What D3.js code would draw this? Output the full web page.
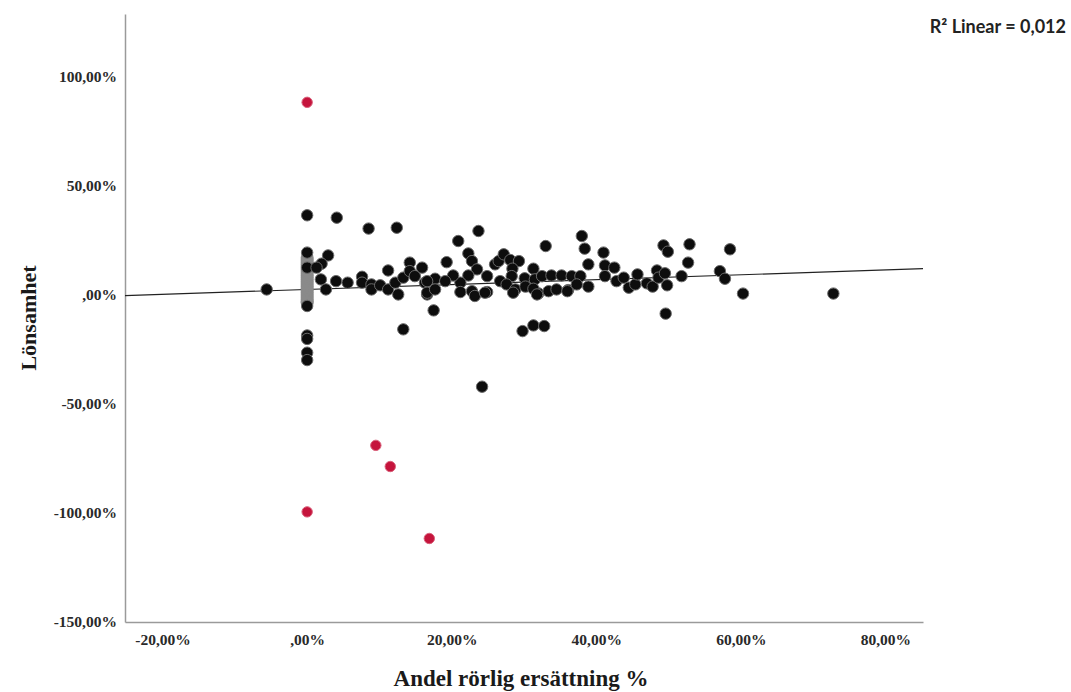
<!DOCTYPE html>
<html>
<head>
<meta charset="utf-8">
<script src="https://cdn.jsdelivr.net/npm/d3@7"></script>
<style>
  body { margin: 0; background: #fff; }
</style>
</head>
<body>
<div class="canvas"></div>
<script>
// x = Andel rörlig ersättning (%), y = Lönsamhet (%)
const blackPoints = [
  [-5.6, 2.5],
  [0, 36.5], [0, 19.4], [0, 12.5], [0, -5.1], [0, -18.6], [0, -20.2], [0, -26.5], [0, -29.9],
  [4.1, 35.4], [8.5, 30.4], [12.4, 30.8],
  [2.9, 18.1], [2.0, 14.3], [1.3, 12.5], [1.9, 7.1], [2.6, 2.5], [4.0, 6.3], [5.6, 5.6],
  [7.6, 8.3], [7.6, 5.6], [8.9, 4.8], [8.9, 2.5], [10.1, 4.4], [11.2, 11.2], [11.2, 2.5],
  [12.2, 5.6], [12.6, 0.2], [13.3, 7.9], [14.2, 14.8], [14.2, 10.9], [14.9, 8.6], [15.9, 12.5],
  [16.3, 5.6], [16.6, 0.2], [13.3, -15.8], [17.5, -7.1], [24.2, -42.1],
  [29.8, -16.6], [31.3, -14.0], [32.8, -14.3],
  [23.7, 29.3], [20.9, 24.7], [19.3, 15.0], [22.3, 19.0], [22.8, 15.5], [23.5, 11.7], [22.3, 8.9],
  [21.2, 5.6], [20.2, 8.9], [17.7, 7.4], [16.6, 6.3], [16.6, 1.0], [17.7, 2.5], [21.2, 1.3],
  [22.8, 1.7], [23.2, -0.5], [24.9, 1.3], [24.9, 8.6], [26.0, 14.0], [26.5, 15.5], [27.2, 18.6],
  [28.1, 16.0], [29.3, 15.5], [28.4, 12.0], [26.7, 6.3], [28.3, 8.6], [27.6, 4.8], [28.8, 2.5],
  [30.1, 7.6], [31.3, 12.0], [31.5, 7.1], [30.2, 3.8], [32.0, 0.7], [31.3, 2.8], [33.0, 22.4],
  [32.5, 8.6], [33.8, 8.9], [35.2, 8.9], [36.6, 8.6], [37.8, 8.6], [38.0, 27.0], [38.4, 21.2],
  [38.9, 14.0], [38.9, 3.8], [33.4, 1.7], [34.5, 2.5], [36.1, 2.2], [37.3, 4.8], [19.1, 6.3],
  [24.6, 1.0], [28.5, 1.0], [31.8, 0.2], [36.0, 1.7],
  [41.0, 19.4], [41.2, 13.5], [42.5, 12.5], [41.2, 8.6], [42.8, 6.3], [43.8, 7.9], [44.5, 3.3],
  [45.4, 4.8], [45.7, 9.4], [47.0, 5.3], [47.8, 3.8], [48.4, 11.2], [48.6, 7.9], [49.5, 9.9],
  [49.3, 22.7], [49.9, 19.8], [49.8, 4.4], [49.6, -8.6], [51.8, 8.6], [52.7, 14.8], [52.9, 23.2],
  [57.1, 10.9], [57.8, 7.4], [58.5, 20.9], [60.3, 0.6], [72.8, 0.6]
]

// many firms with 0 % variable pay, drawn in gray
const zeroY = [17, 16, 15, 14, 13, 12, 11, 10, 9, 8, 7, 6, 5, 4, 3, 2, 1, 0, -1, -2, -3, -3.5]

// outliers marked red
const redPoints = [[0, 88.3], [9.5, -69], [11.5, -78.7], [16.9, -111.7], [0, -99.5]]

const xTicks = [-20, 0, 20, 40, 60, 80]
const yTicks = [-150, -100, -50, 0, 50, 100]

// linear fit
const fitIntercept = 2.5
const fitSlope = 0.112
const r2Label = 'R\u00b2 Linear = 0,012'

const width = 1071
const height = 692

const svg = d3.select('.canvas').append('svg').attr('width', width).attr('height', height)

const plot = { left: 125, right: 923, top: 14, bottom: 622 }

const x = d3.scaleLinear().domain([-25.2, 85.2]).range([plot.left, plot.right])
const y = d3.scaleLinear().domain([-150, 128.8]).range([plot.bottom, plot.top])

const fmt = d => d === 0 ? ',00%' : d.toFixed(2).replace('.', ',') + '%'

const axisColor = '#9a9a9a'
const serif = '"Liberation Serif", "DejaVu Serif", serif'

const xAxisGroup = svg.append('g').attr('transform', `translate(0, ${plot.bottom})`)
const yAxisGroup = svg.append('g').attr('transform', `translate(${plot.left}, 0)`)

xAxisGroup.call(d3.axisBottom(x).tickValues(xTicks).tickFormat(fmt).tickSize(0).tickSizeOuter(0).tickPadding(12))
yAxisGroup.call(d3.axisLeft(y).tickValues(yTicks).tickFormat(fmt).tickSize(0).tickSizeOuter(0).tickPadding(8))

svg.selectAll('.domain').attr('stroke', axisColor).attr('stroke-width', 1.5)
svg.selectAll('.tick text')
  .attr('font-family', serif)
  .attr('font-weight', 'bold')
  .attr('font-size', 15.5)
  .attr('fill', '#2a2a2a')

// regression line
const xd = x.domain()
svg.append('line')
  .attr('x1', x(xd[0])).attr('y1', y(fitIntercept + fitSlope * xd[0]))
  .attr('x2', x(xd[1])).attr('y2', y(fitIntercept + fitSlope * xd[1]))
  .attr('stroke', '#222')
  .attr('stroke-width', 1.2)

const dots = svg.append('g')

dots.selectAll('circle.zero')
  .data(zeroY)
  .enter()
  .append('circle')
  .attr('class', 'zero')
  .attr('cx', x(0))
  .attr('cy', d => y(d))
  .attr('r', 6)
  .attr('fill', '#8a8a8a')
  .attr('stroke', '#8a8a8a')
  .attr('stroke-width', 1)

dots.selectAll('circle.black')
  .data(blackPoints)
  .enter()
  .append('circle')
  .attr('class', 'black')
  .attr('cx', d => x(d[0]))
  .attr('cy', d => y(d[1]))
  .attr('r', 5.7)
  .attr('fill', '#0d0d0d')
  .attr('stroke', '#6a6a6a')
  .attr('stroke-width', 1)

dots.selectAll('circle.red')
  .data(redPoints)
  .enter()
  .append('circle')
  .attr('class', 'red')
  .attr('cx', d => x(d[0]))
  .attr('cy', d => y(d[1]))
  .attr('r', 5.2)
  .attr('fill', '#c5143c')
  .attr('stroke', '#d9607a')
  .attr('stroke-width', 1)

// axis titles
svg.append('text')
  .attr('x', 521).attr('y', 686)
  .attr('text-anchor', 'middle')
  .attr('font-family', serif).attr('font-weight', 'bold').attr('font-size', 23)
  .attr('fill', '#1a1a1a')
  .text('Andel rörlig ersättning %')

svg.append('text')
  .attr('transform', 'translate(36, 318) rotate(-90)')
  .attr('text-anchor', 'middle')
  .attr('font-family', serif).attr('font-weight', 'bold').attr('font-size', 22)
  .attr('fill', '#1a1a1a')
  .text('Lönsamhet')

svg.append('text')
  .attr('x', 1066).attr('y', 33)
  .attr('text-anchor', 'end')
  .attr('font-family', 'Lato, "Open Sans", sans-serif').attr('font-weight', 'bold').attr('font-size', 18)
  .attr('fill', '#222')
  .text(r2Label)
</script>
</body>
</html>
